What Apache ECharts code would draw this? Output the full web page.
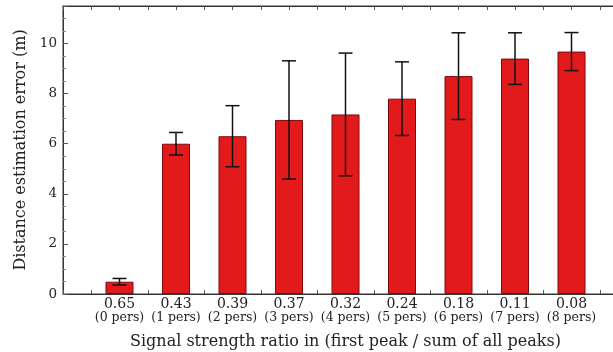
<!DOCTYPE html>
<html>
<head>
<meta charset="utf-8">
<script src="https://cdn.jsdelivr.net/npm/echarts@6/dist/echarts.min.js"></script>
<style>
  html, body { margin: 0; padding: 0; background: #fff; }
  #chart { width: 613px; height: 352px; }
</style>
</head>
<body>
<div id="chart"></div>
<script>
// Signal strength ratio per number of persons, with mean distance error and spread
const ratios = ['0.65', '0.43', '0.39', '0.37', '0.32', '0.24', '0.18', '0.11', '0.08'];
const persons = ['(0 pers)', '(1 pers)', '(2 pers)', '(3 pers)', '(4 pers)', '(5 pers)', '(6 pers)', '(7 pers)', '(8 pers)'];
const meanError = [0.49, 6.0, 6.3, 6.95, 7.17, 7.8, 8.7, 9.4, 9.68];
const spread = [0.13, 0.45, 1.22, 2.36, 2.45, 1.47, 1.73, 1.03, 0.76];
const yTicks = [0, 2, 4, 6, 8, 10];

const positions = ratios.map((_, i) => i + 1);
const barData = positions.map((p, i) => [p, meanError[i]]);
const errData = positions.map((p, i) => [p, meanError[i] - spread[i], meanError[i] + spread[i]]);

const serif = '"DejaVu Serif", "Liberation Serif", serif';
const ink = '#222';

const chart = echarts.init(document.getElementById('chart'), null, { renderer: 'canvas' });

const baseX = {
  type: 'value',
  min: 0,
  max: 10,
  interval: 0.5,
  splitLine: { show: false },
  axisLine: { show: true, lineStyle: { color: '#333', width: 1 } },
  axisTick: { show: true, inside: true, length: 4, lineStyle: { color: '#555' } }
};

chart.setOption({
  animation: false,
  backgroundColor: '#fff',
  grid: {
    left: 63, top: 6, width: 565, height: 288,
    outerBoundsMode: 'none',
    containLabel: false,
    show: true, borderColor: '#333', borderWidth: 1, backgroundColor: 'transparent'
  },
  xAxis: [
    Object.assign({}, baseX, {
      position: 'bottom',
      name: 'Signal strength ratio in (first peak / sum of all peaks)',
      nameLocation: 'middle',
      nameGap: 40,
      nameTextStyle: { fontFamily: serif, fontSize: 16, color: ink },
      axisLabel: {
        margin: 3,
        interval: 0,
        formatter: function (v) {
          const i = Math.round(v) - 1;
          if (Math.abs(v - Math.round(v)) > 1e-6 || i < 0 || i >= ratios.length) return '';
          return '{a|' + ratios[i] + '}\n{b|' + persons[i] + '}';
        },
        rich: {
          a: { fontFamily: serif, fontSize: 14, lineHeight: 14, color: ink },
          b: { fontFamily: serif, fontSize: 12.5, lineHeight: 13, color: ink }
        }
      }
    }),
    Object.assign({}, baseX, {
      position: 'top',
      axisLabel: { show: false }
    })
  ],
  yAxis: {
    type: 'value',
    min: 0,
    max: 11.5,
    interval: 2,
    name: 'Distance estimation error (m)',
    nameLocation: 'middle',
    nameRotate: 90,
    nameGap: 29,
    nameTextStyle: { fontFamily: serif, fontSize: 16, color: ink },
    splitLine: { show: false },
    axisLine: { show: true, lineStyle: { color: '#333', width: 1 } },
    axisTick: { show: true, inside: true, length: 5, lineStyle: { color: '#555' } },
    minorTick: { show: true, splitNumber: 4, length: 3, lineStyle: { color: '#888' } },
    axisLabel: {
      margin: 6,
      showMaxLabel: false,
      fontFamily: serif, fontSize: 13.5, color: ink,
      formatter: function (v) { return yTicks.indexOf(v) >= 0 ? String(v) : ''; }
    }
  },
  series: [
    {
      type: 'bar',
      data: barData,
      barWidth: 28,
      itemStyle: { color: '#e31a1c', borderColor: '#7a0b0b', borderWidth: 1 },
      z: 2
    },
    {
      type: 'custom',
      data: errData,
      z: 3,
      renderItem: function (params, api) {
        const x = api.value(0);
        const lo = api.coord([x, api.value(1)]);
        const hi = api.coord([x, api.value(2)]);
        const half = 7;
        const style = { stroke: '#111', lineWidth: 1.5 };
        return {
          type: 'group',
          children: [
            { type: 'line', shape: { x1: hi[0], y1: hi[1], x2: lo[0], y2: lo[1] }, style: style },
            { type: 'line', shape: { x1: hi[0] - half, y1: hi[1], x2: hi[0] + half, y2: hi[1] }, style: style },
            { type: 'line', shape: { x1: lo[0] - half, y1: lo[1], x2: lo[0] + half, y2: lo[1] }, style: style }
          ]
        };
      }
    }
  ]
});
</script>
</body>
</html>
